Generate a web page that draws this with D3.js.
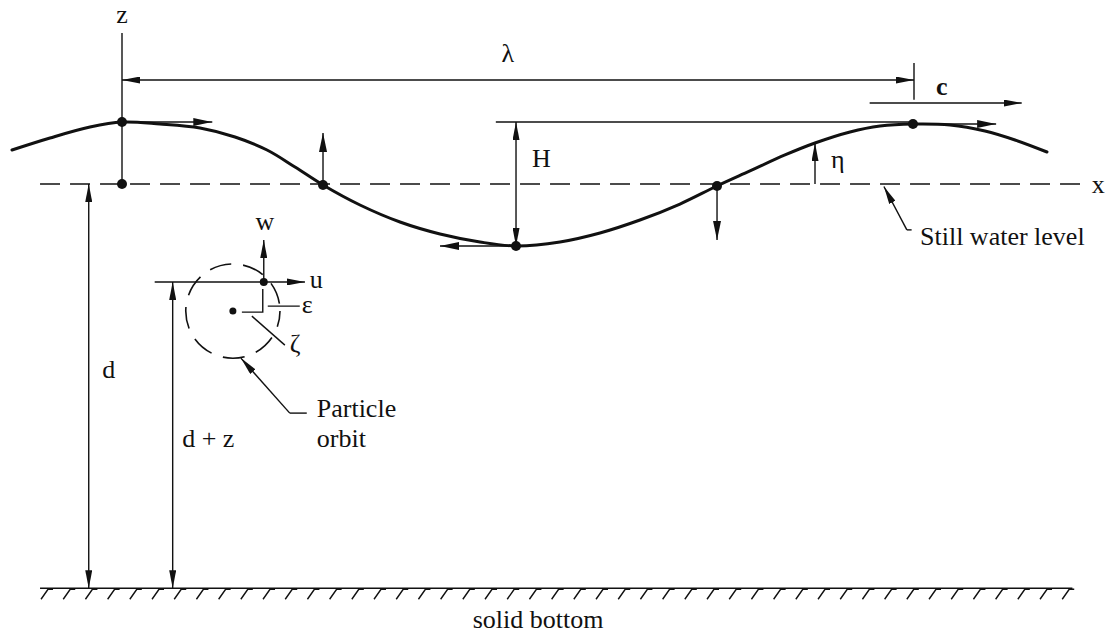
<!DOCTYPE html>
<html lang="en">
<head>
<meta charset="UTF-8">
<title>Progressive wave definition sketch</title>
<script src="https://d3js.org/d3.v7.min.js"></script>
<style>
    body { margin: 0; background: #fff; }
    svg { display: block; font-family: "Liberation Serif", "Times New Roman", serif; }
    .lbl { fill: #111; font-size: 26px; }
    .thin { stroke: #111; stroke-width: 1.4; fill: none; }
</style>
</head>
<body>
<div id="chart"></div>
<script>
// water surface: phase (fraction of wavelength) and eta (units of amplitude)
const surfPhase = [-0.1389, -0.0909, -0.0404, 0, 0.048, 0.0985, 0.1427, 0.1831, 0.2184, 0.2538,
    0.3005, 0.3510, 0.4015, 0.4520, 0.4975, 0.5530, 0.6035, 0.6540, 0.7045, 0.7513,
    0.7929, 0.8371, 0.8750, 0.9192, 0.9571, 0.9987, 1.0455, 1.0896, 1.1275, 1.1679];
const surfEta = [0.548, 0.742, 0.919, 1.0, 0.968, 0.903, 0.758, 0.548, 0.274, -0.016,
    -0.339, -0.613, -0.806, -0.935, -1.0, -0.935, -0.790, -0.581, -0.323, -0.032,
    0.210, 0.468, 0.661, 0.839, 0.935, 0.968, 0.952, 0.855, 0.710, 0.516];

// surface points where particle velocity is marked
const keyPhase = [0, 0.2538, 0.4975, 0.7513, 0.9987];
const keyEta = [1.0, -0.016, -1.0, -0.032, 0.968];
const keyU = [0.114, 0, -0.096, 0, 0.105];   // horizontal arrow, phase units
const keyW = [0, 0.84, 0, -0.87, 0];          // vertical arrow, amplitude units

const depth = 6.52;                 // still water depth, amplitude units
const particle = [0.179, -1.58];    // particle position (phase, z)
const orbitCentre = [0.140, -2.05];
const orbitRadius = 0.76;
const etaPhase = 0.875;             // where eta is dimensioned
const celerity = [0.944, 1.136];    // c arrow extent

const W = 1105, H = 634;
const svg = d3.select("#chart").append("svg").attr("width", W).attr("height", H);

// one wavelength spans the z axis to the next crest, amplitude = 62px
const x = d3.scaleLinear().domain([0, 1]).range([122, 914]);
const z = d3.scaleLinear().domain([0, 1]).range([184, 122]);
const px = d => x(d) - x(0); // horizontal size in px

const defs = svg.append("defs");
function marker(id, len, wid) {
    defs.append("marker")
        .attr("id", id)
        .attr("viewBox", `0 ${-wid / 2} ${len} ${wid}`)
        .attr("refX", len).attr("refY", 0)
        .attr("markerWidth", len).attr("markerHeight", wid)
        .attr("markerUnits", "userSpaceOnUse")
        .attr("orient", "auto-start-reverse")
        .append("path")
        .attr("d", `M0,${-wid / 2}L${len},0L0,${wid / 2}Z`)
        .attr("fill", "#111");
}
marker("arr", 18, 7);
marker("varr", 19, 8);

function seg(x1, y1, x2, y2, cls, start, end) {
    const l = svg.append("line")
        .attr("x1", x1).attr("y1", y1).attr("x2", x2).attr("y2", y2)
        .attr("class", cls || "thin");
    if (start) l.attr("marker-start", `url(#${start})`);
    if (end) l.attr("marker-end", `url(#${end})`);
    return l;
}
function label(txt, lx, ly, size, anchor, weight) {
    return svg.append("text").attr("class", "lbl")
        .attr("x", lx).attr("y", ly)
        .attr("font-size", size || 26)
        .attr("text-anchor", anchor || "start")
        .attr("font-weight", weight || "normal")
        .text(txt);
}

// still water level
seg(x(-0.1035), z(0), x(1.218), z(0)).attr("stroke-dasharray", "20,10");
label("x", x(1.218) + 5, z(0) + 9, 24);

// z axis
seg(x(0), z(2.435), x(0), z(0));
label("z", x(0), 23, 22, "middle");

// wavelength dimension
const lamZ = 1.677;
seg(x(0), z(lamZ), x(1), z(lamZ), "thin", "arr", "arr");
seg(x(1), z(1.95), x(1), z(1.36));
label("\u03bb", x(0.487), 62, 24, "middle");

// celerity
seg(x(celerity[0]), z(1.306), x(celerity[1]), z(1.306), "thin", null, "arr");
label("c", x(1.035), 95, 26, "middle", "bold");

// wave height
seg(x(0.472), z(1.0), x(1), z(1.0));
seg(x(0.4975), z(1.0), x(0.4975), z(-1.0), "thin", "arr", "arr");
label("H", x(0.4975) + 16, 167, 27);

// eta
const etaAt = d3.scaleLinear().domain(surfPhase).range(surfEta);
seg(x(etaPhase), z(0), x(etaPhase), z(etaAt(etaPhase)), "thin", null, "arr");
label("\u03b7", x(etaPhase) + 16, 168, 24);

// surface profile
const surf = surfPhase.map((p, i) => [p, surfEta[i]]);
svg.append("path")
    .datum(surf)
    .attr("d", d3.line().x(d => x(d[0])).y(d => z(d[1])).curve(d3.curveCatmullRom.alpha(0.5)))
    .attr("fill", "none").attr("stroke", "#111").attr("stroke-width", 3)
    .attr("stroke-linecap", "round");

// velocity arrows on the surface
keyPhase.forEach((p, i) => {
    seg(x(p), z(keyEta[i]), x(p + keyU[i]), z(keyEta[i] + keyW[i]), "thin", null, "varr")
        .attr("stroke-width", 2);
});
svg.selectAll(".kdot")
    .data(keyPhase.map((p, i) => [p, keyEta[i]]).concat([[0, 0]]))
    .enter().append("circle")
    .attr("cx", d => x(d[0])).attr("cy", d => z(d[1])).attr("r", 5).attr("fill", "#111");

// still water level leader
const swlP = 0.962;
svg.append("path").attr("class", "thin")
    .attr("d", `M${x(0.991)},${z(-0.74)}L${x(0.997)},${z(-0.74)}`);
seg(x(0.991), z(-0.74), x(swlP), z(-0.04), "thin", null, "arr");
label("Still water level", x(1.0) + 6, 245, 29);

// depth d
seg(x(-0.042), z(0), x(-0.042), z(-depth), "thin", "arr", "arr");
label("d", x(-0.025), 378, 27);

// d + z
const dzP = 0.064;
seg(x(dzP), z(particle[1]), x(dzP), z(-depth), "thin", "arr", "arr");
seg(x(dzP) - 18, z(particle[1]), x(particle[0]) - 3, z(particle[1]));
label("d + z", x(0.076), 447, 27);

// bottom
const botZ = -depth;
seg(x(-0.1035), z(botZ), x(1.2), z(botZ)).attr("stroke-width", 2.2);
const hatchX = d3.range(x(-0.1035) + 4, x(1.2) - 4, 22.2);
svg.selectAll(".hatch")
    .data(hatchX)
    .enter().append("path")
    .attr("class", "thin")
    .attr("stroke-width", 1.7)
    .attr("d", d => `M${d + 9},${z(botZ) + 1}L${d + 4},${z(botZ) + 1}L${d - 3},${z(botZ) + 11}`);
label("solid bottom", x(0.5) + 20, 628, 29, "middle");

// particle orbit
const cx = x(orbitCentre[0]), cy = z(orbitCentre[1]);
const r = z(0) - z(orbitRadius);
svg.append("circle")
    .attr("cx", cx).attr("cy", cy).attr("r", r)
    .attr("fill", "none").attr("stroke", "#111").attr("stroke-width", 1.6)
    .attr("stroke-dasharray", "22,12").attr("stroke-dashoffset", 6);
const ppx = x(particle[0]), ppy = z(particle[1]);
svg.append("circle").attr("cx", cx).attr("cy", cy).attr("r", 3.5).attr("fill", "#111");
svg.append("circle").attr("cx", ppx).attr("cy", ppy).attr("r", 4).attr("fill", "#111");

// particle velocity components
seg(ppx, ppy, ppx, ppy - 42, "thin", null, "arr");
label("w", ppx + 1, 230, 22, "middle");
seg(ppx, ppy, ppx + px(0.052), ppy, "thin", null, "arr");
label("u", ppx + 46, 288, 24);

// displacements
svg.append("path").attr("class", "thin")
    .attr("d", `M${cx + 9},${cy + 1}L${ppx - 1},${cy + 1}L${ppx - 1},${ppy + 7}`);
seg(ppx + 4, cy - 5, ppx + 36, cy - 5);
label("\u03b5", ppx + 38, 313, 24);
seg(cx + 19, cy + 5, cx + 52, cy + 34);
label("\u03b6", ppx + 26, 352, 24);

// orbit leader
svg.append("path").attr("class", "thin")
    .attr("d", `M${ppx + 43},${cy + 102}L${ppx + 26},${cy + 102}`);
seg(ppx + 26, cy + 102, cx + 8, cy + 47, "thin", null, "arr");
label("Particle", ppx + 53, 417, 29);
label("orbit", ppx + 53, 447, 29);
</script>
</body>
</html>
